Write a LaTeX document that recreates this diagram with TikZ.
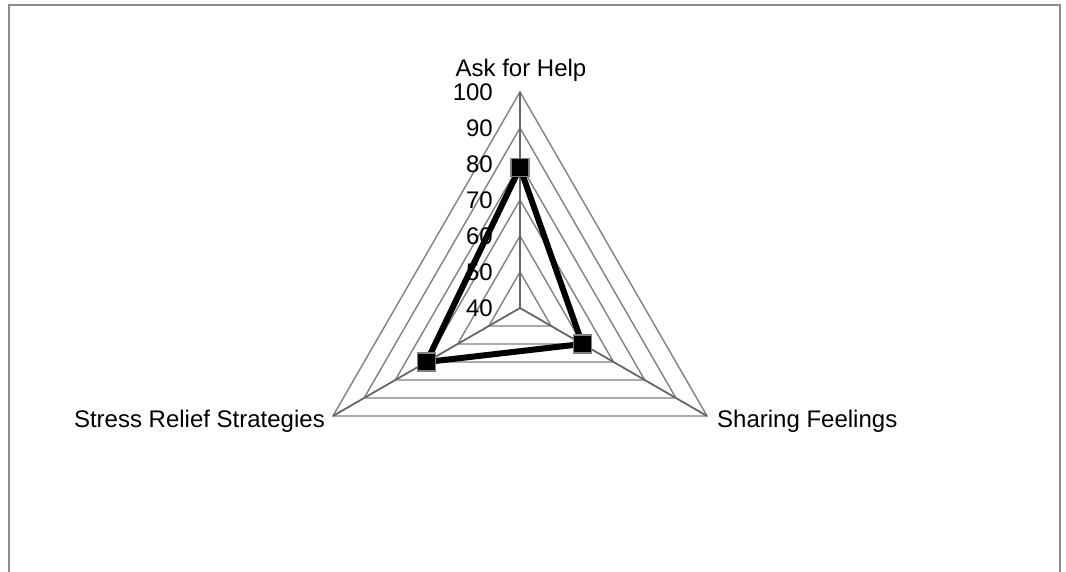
\documentclass[tikz,border=0pt]{standalone}
\usepackage{fontspec}
\setmainfont{Liberation Sans}
\usetikzlibrary{positioning}

\begin{document}
\begin{tikzpicture}
  [x=1pt,y=1pt,line join=miter,
  % Styles
  frame/.style={draw=framecolor,line width=2pt},
  ring/.style={draw=ringcolor,line width=1.4pt},
  spoke/.style={draw=spokecolor,line width=1.8pt},
  series line/.style={draw=black,line width=6pt},
  marker/.style={draw=gray,fill=black,line width=1.2pt,minimum size=18pt,inner sep=0pt},
  tick label/.style={anchor=east,inner sep=0pt,font=\fontsize{24}{28}\selectfont},
  axis label/.style={inner sep=0pt,font=\fontsize{24}{28}\selectfont}]
  % Local definitions
  \def\unit{3.6}% pt per value step, 40 at the centre
  % Colors
  \colorlet{framecolor}{black!45}
  \colorlet{ringcolor}{black!50}
  \colorlet{spokecolor}{black!60}
  % The graphic
  \useasboundingbox (0,0) rectangle (1066,572);
  \draw[frame] (8.5,-10) |- (1059.5,566.5) -- (1059.5,-10);
  \begin{scope}[shift={(520,264)}]
    \coordinate (O) at (0,0);
    \foreach \v in {50,60,...,100}
      \draw[ring] (90:{(\v-40)*\unit}) -- (210:{(\v-40)*\unit})
        -- (330:{(\v-40)*\unit}) -- cycle;
    \coordinate (help) at (90:216);
    \coordinate (stress) at (210:216);
    \coordinate (share) at (330:216);
    \foreach \a in {help,stress,share}
      \draw[spoke] (O) -- (\a);
    \foreach \v in {40,50,...,100}
      \node[tick label] (t\v) at (-27,{(\v-40)*\unit}) {\v};
    % Series
    \coordinate (p help) at (90:{(79-40)*\unit});
    \coordinate (p share) at (330:{(60-40)*\unit});
    \coordinate (p stress) at (210:{(70-40)*\unit});
    \draw[series line] (p help) -- (p share) -- (p stress) -- cycle;
    \foreach \p in {help,share,stress}
      \node[marker] (m \p) at (p \p) {};
  \end{scope}
  \node[axis label,anchor=base] (l help) at (521,495) {Ask for Help};
  \node[axis label,anchor=base west] (l share) at (717,144) {Sharing Feelings};
  \node[axis label,anchor=base east] (l stress) at (325,144) {Stress Relief Strategies};
\end{tikzpicture}
\end{document}
